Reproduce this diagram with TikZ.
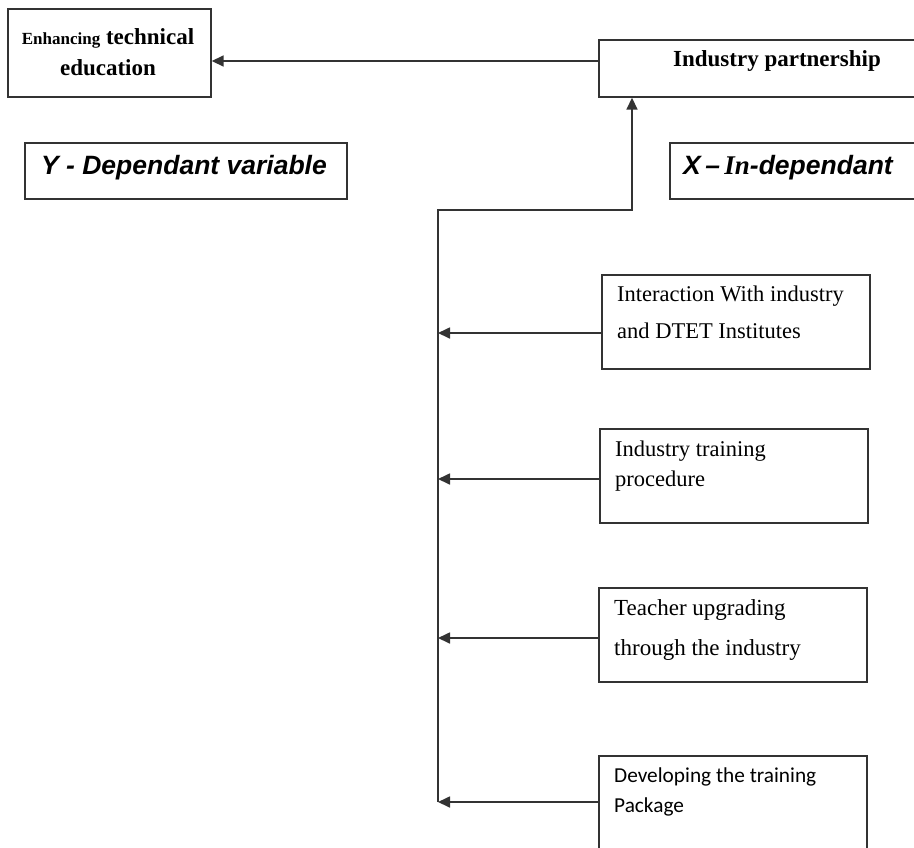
\documentclass[tikz,border=0pt]{standalone}
\usepackage{fontspec}
\usetikzlibrary{arrows.meta}
\newfontfamily\serifA{Liberation Serif}
\newfontfamily\sansA{Liberation Sans}
\newfontfamily\carlA{Carlito}
\begin{document}
\begin{tikzpicture}[x=1pt,y=-1pt,
  line/.style={draw=black!80,line width=1.7pt},
  arr/.style={line,-{Triangle[length=12pt,width=11pt]}},
  box/.style={line,rectangle,inner sep=0pt,anchor=north west},
  txt/.style={anchor=north west,align=left,inner sep=0pt}]
\path[use as bounding box,clip] (0,0) rectangle (914,847);
\fill[white] (0,0) rectangle (914,847);

% top boxes
\node[box,minimum width=203pt,minimum height=88pt] (enh) at (7,8) {};
\node[align=center,inner sep=0pt,font=\serifA\bfseries\fontsize{23}{31}\selectfont] (enht) at (108,52)
  {{\fontsize{17}{31}\selectfont Enhancing} technical\\education};
\node[box,minimum width=330pt,minimum height=57pt] (ip) at (598,39) {};
\node[inner sep=0pt,font=\serifA\bfseries\fontsize{23}{27}\selectfont] (ipt) at (777,61) {Industry partnership};

\node[box,minimum width=322pt,minimum height=56pt] (yv) at (24,142) {};
\node[inner sep=0pt,font=\sansA\bfseries\itshape\fontsize{26.5}{30}\selectfont] (yvt) at (184,168) {Y - Dependant variable};
\node[box,minimum width=260pt,minimum height=56pt] (xv) at (669,142) {};
\node[inner sep=0pt,anchor=west,font=\sansA\bfseries\itshape\fontsize{26.5}{30}\selectfont] (xvt) at (683,168) {X\,–\,{\serifA\fontsize{27}{30}\selectfont In}-dependant};

% right boxes
\node[box,minimum width=268pt,minimum height=94pt] (b1) at (601,274) {};
\node[txt,font=\serifA\fontsize{22.5}{37}\selectfont] (b1t) at (617,286) {Interaction With industry\\and DTET Institutes};
\node[box,minimum width=268pt,minimum height=94pt] (b2) at (599,428) {};
\node[txt,font=\serifA\fontsize{22.5}{30}\selectfont] (b2t) at (615,441) {Industry training\\procedure};
\node[box,minimum width=268pt,minimum height=94pt] (b3) at (598,587) {};
\node[txt,font=\serifA\fontsize{23}{40}\selectfont] (b3t) at (614,599) {Teacher upgrading\\through the industry};
\node[box,minimum width=268pt,minimum height=110pt] (b4) at (598,755) {};
\node[txt,font=\carlA\fontsize{21.3}{30}\selectfont] (b4t) at (614,768) {Developing the training\\Package};

% connectors
\coordinate (busbot) at (438,802);
\coordinate (corner) at (632,210);
\draw[arr] (ip.west |- 0,61) -- (enh.east |- 0,61);
\draw[arr] (busbot) |- (corner) -- (corner |- ip.south);
\draw[arr] (b1.west |- 0,333) -- (busbot |- 0,333);
\draw[arr] (b2.west |- 0,479) -- (busbot |- 0,479);
\draw[arr] (b3.west |- 0,638) -- (busbot |- 0,638);
\draw[arr] (b4.west |- 0,802) -- (busbot);
\end{tikzpicture}
\end{document}
